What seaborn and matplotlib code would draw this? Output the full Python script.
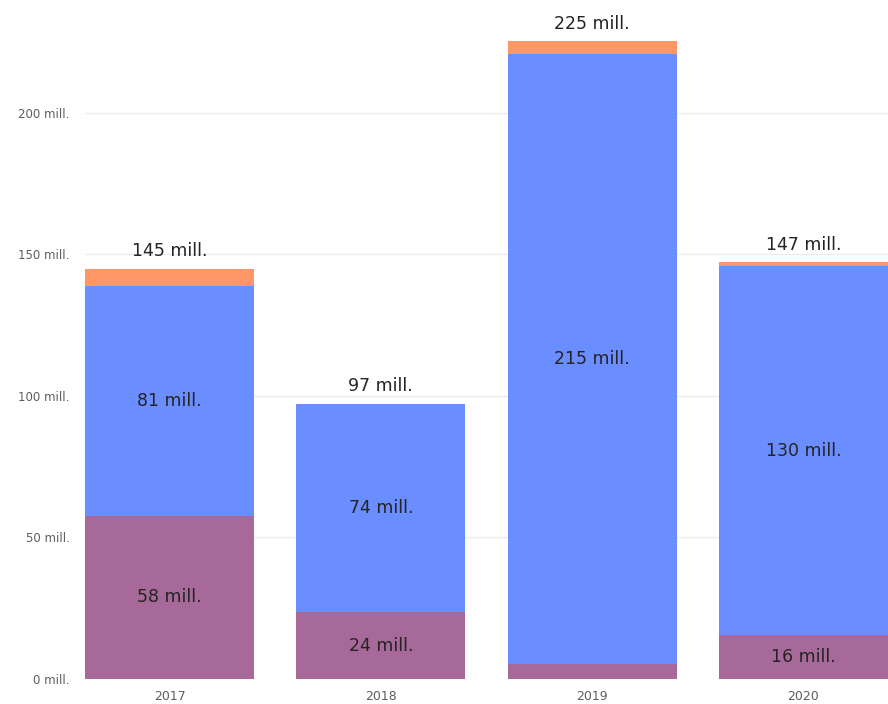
import seaborn as sns
import matplotlib.pyplot as plt
import pandas as pd
import numpy as np

years = ['2017', '2018', '2019', '2020']
purple_vals = [57.6, 23.6, 5.4, 15.6]
blue_vals = [81.2, 73.6, 215.4, 130.2]
orange_vals = [6.2, 0.0, 4.4, 1.5]
yticks = [0, 50, 100, 150, 200]

purple_c = '#A66999'
blue_c = '#6A8DFF'
orange_c = '#FE9666'
text_c = '#252423'

p = np.array(purple_vals)
b = np.array(blue_vals)
o = np.array(orange_vals)
df = pd.DataFrame({'year': years, 'purple': p, 'mid': p + b, 'total': p + b + o})

sns.set_theme(style='white')
plt.rcParams['font.family'] = ['DejaVu Sans']

fig = plt.figure(figsize=(8.88, 7.04), dpi=100)
ax = fig.add_axes([0.0957, 0.0355, 0.9043, 0.945])

# stacked look: draw cumulative totals back to front
for col, c in [('total', orange_c), ('mid', blue_c), ('purple', purple_c)]:
    sns.barplot(data=df, x='year', y=col, color=c, saturation=1, width=0.8,
                linewidth=0, ax=ax)

ax.set_xlim(-0.4, 3.4)
ax.set_ylim(0, 235)
ax.set_yticks(yticks)
ax.set_yticklabels([f'{t} mill.' for t in yticks], fontsize=8.5, color='#605E5C')
ax.tick_params(axis='x', labelsize=9, labelcolor='#605E5C', length=0, pad=8)
ax.tick_params(axis='y', length=0, pad=11)
ax.set_xlabel('')
ax.set_ylabel('')
ax.grid(axis='y', color='#EDEBE9', linewidth=1)
ax.set_axisbelow(True)
for s in ax.spines.values():
    s.set_visible(False)

# segment labels
for i in range(len(years)):
    if p[i] >= 10:
        ax.text(i, p[i] / 2, f'{round(p[i])} mill.', ha='center', va='center',
                fontsize=12.5, color=text_c)
    if b[i] >= 10:
        ax.text(i, p[i] + b[i] / 2, f'{round(b[i])} mill.', ha='center', va='center',
                fontsize=12.5, color=text_c)
    tot = p[i] + b[i] + o[i]
    ax.text(i, tot + 3, f'{round(tot)} mill.', ha='center', va='bottom',
            fontsize=12.5, color=text_c)

fig.savefig('out.png', dpi=100)
